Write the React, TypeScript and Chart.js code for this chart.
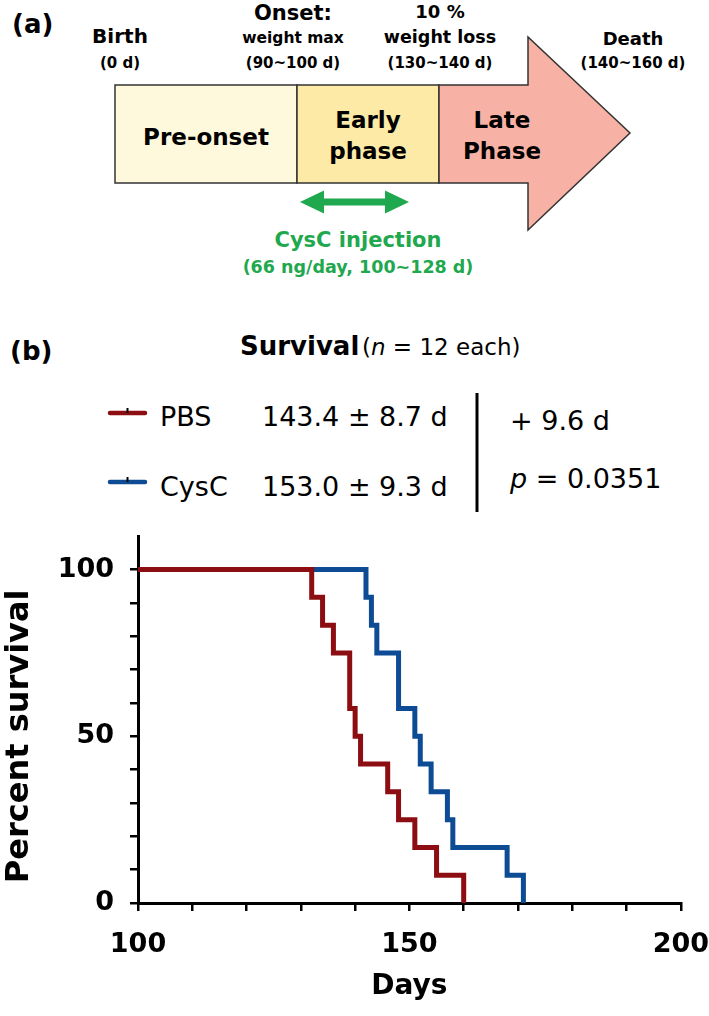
import React, { useEffect, useRef } from 'react';
import { Chart, registerables } from 'chart.js';

Chart.register(...registerables);

// ---- Data ----
const pbsDays = [100, 132, 134, 136, 139, 140, 141, 146, 148, 151, 155, 160];
const pbsSurvival = [100, 91.67, 83.33, 75, 58.33, 50, 41.67, 33.33, 25, 16.67, 8.33, 0];
const cysDays = [100, 142, 143, 144, 148, 151, 152, 154, 157, 158, 168, 171];
const cysSurvival = [100, 91.67, 83.33, 75, 58.33, 50, 41.67, 33.33, 25, 16.67, 8.33, 0];
const xTickLabels = [100, 150, 200];
const yTickLabels = [0, 50, 100];

const RED = '#8C0E12';
const BLUE = '#0D4B94';
const GREEN = '#1FA84E';
const BOLD = 'DejaVu Sans';

type TP = { x: number; y: number; size: number; bold?: boolean; anchor?: string; fill?: string; children: React.ReactNode };
function T({ x, y, size, bold, anchor, fill, children }: TP) {
  return (
    <text x={x} y={y} fontFamily="DejaVu Sans" fontSize={size} fontWeight={bold ? 'bold' : 'normal'}
      textAnchor={anchor || 'middle'} fill={fill || '#000'}>{children}</text>
  );
}

export default function App() {
  const ref = useRef<HTMLCanvasElement>(null);
  useEffect(() => {
    const tickFont = { family: BOLD, weight: 'bold' as const, size: 27 };
    const chart = new Chart(ref.current!, {
      type: 'line',
      data: {
        datasets: [
          {
            label: 'PBS',
            data: pbsDays.map((d, i) => ({ x: d, y: pbsSurvival[i] })),
            borderColor: RED, borderWidth: 5, stepped: 'before', pointRadius: 0,
            fill: false, clip: false, borderJoinStyle: 'miter', borderCapStyle: 'butt',
          },
          {
            label: 'CysC',
            data: cysDays.map((d, i) => ({ x: d, y: cysSurvival[i] })),
            borderColor: BLUE, borderWidth: 5, stepped: 'before', pointRadius: 0,
            fill: false, clip: false, borderJoinStyle: 'miter', borderCapStyle: 'butt',
          },
        ],
      },
      options: {
        responsive: false,
        animation: false,
        layout: { padding: { top: 0, left: 0, right: 10, bottom: 0 } },
        plugins: { legend: { display: false }, tooltip: { enabled: false } },
        scales: {
          x: {
            type: 'linear', min: 100, max: 200,
            ticks: {
              stepSize: 10, autoSkip: false, maxRotation: 0, minRotation: 0, padding: 18,
              color: '#000', font: tickFont,
              callback: (v: any) => (xTickLabels.includes(Number(v)) ? String(v) : ''),
            },
            grid: { display: true, drawOnChartArea: false, drawTicks: true, tickLength: 8, color: '#000', lineWidth: 2.5 },
            border: { display: true, color: '#000', width: 3 },
            title: { display: true, text: 'Days', color: '#000', font: { family: BOLD, weight: 'bold', size: 28 }, padding: { top: 0, bottom: 12 } },
            afterFit: (s: any) => { s.height = 113; },
          },
          y: {
            type: 'linear', min: 0, max: 110,
            afterBuildTicks: (s: any) => { s.ticks = s.ticks.filter((t: any) => t.value <= 100); },
            ticks: {
              stepSize: 10, autoSkip: false, padding: 16, color: '#000', font: tickFont,
              callback: (v: any) => (yTickLabels.includes(Number(v)) ? String(v) : ''),
            },
            grid: { display: true, drawOnChartArea: false, drawTicks: true, tickLength: 8, color: '#000', lineWidth: 2.5 },
            border: { display: true, color: '#000', width: 3 },
            title: { display: true, text: 'Percent survival   ', color: '#000', font: { family: BOLD, weight: 'bold', size: 32 }, padding: { top: 0, bottom: 0 } },
            afterFit: (s: any) => { s.width = 138; },
          },
        },
      },
    } as any);
    return () => chart.destroy();
  }, []);

  return (
    <div style={{ position: 'absolute', left: 0, top: 0, width: 709, height: 1016, background: '#fff', overflow: 'hidden' }}>
      <svg width={709} height={519} style={{ position: 'absolute', left: 0, top: 0 }}>
        {/* Panel (a) */}
        <T x={12} y={33} size={26} bold anchor="start">(a)</T>
        <T x={120} y={43} size={20} bold>Birth</T>
        <T x={120} y={68} size={15} bold>(0 d)</T>
        <T x={293} y={20} size={21} bold>Onset:</T>
        <T x={293} y={43} size={15.5} bold>weight max</T>
        <T x={293} y={68} size={15} bold>(90~100 d)</T>
        <T x={440} y={18} size={18} bold>10 %</T>
        <T x={440} y={43} size={17.5} bold>weight loss</T>
        <T x={440} y={68} size={15} bold>(130~140 d)</T>
        <T x={633} y={45} size={18} bold>Death</T>
        <T x={633} y={68} size={15} bold>(140~160 d)</T>

        <rect x={115} y={85} width={182} height={98} fill="#FEF8DC" stroke="#333" strokeWidth={1.5} />
        <rect x={297} y={85} width={142} height={98} fill="#FCEAA6" stroke="#333" strokeWidth={1.5} />
        <polygon points="439,85 528,85 528,37 630,133 528,230 528,183 439,183" fill="#F8B2A5" stroke="#333" strokeWidth={1.5} />
        <T x={206} y={145} size={23} bold>Pre-onset</T>
        <T x={368} y={128} size={23} bold>Early</T>
        <T x={368} y={159} size={23} bold>phase</T>
        <T x={502} y={128} size={23} bold>Late</T>
        <T x={502} y={159} size={23} bold>Phase</T>

        <polygon points="300,202 324,190.5 324,198.5 385,198.5 385,190.5 409,202 385,213.5 385,205.5 324,205.5 324,213.5" fill={GREEN} />
        <T x={358} y={247} size={21} bold fill={GREEN}>CysC injection</T>
        <T x={358} y={273} size={17.5} bold fill={GREEN}>(66 ng/day, 100~128 d)</T>

        {/* Panel (b) header and legend */}
        <T x={10} y={360} size={26} bold anchor="start">(b)</T>
        <T x={240} y={355} size={26} bold anchor="start">Survival</T>
        <text x={362} y={355} fontFamily="DejaVu Sans" fontSize={23} fill="#000">
          (<tspan fontStyle="italic">n</tspan> = 12 each)
        </text>

        <line x1={110} y1={413} x2={145} y2={413} stroke={RED} strokeWidth={4.5} strokeLinecap="round" />
        <line x1={127.5} y1={408} x2={127.5} y2={413} stroke="#000" strokeWidth={2} />
        <T x={160} y={426} size={27} anchor="start">PBS</T>
        <T x={262} y={426} size={27} anchor="start">143.4 ± 8.7 d</T>

        <line x1={110} y1={482} x2={145} y2={482} stroke={BLUE} strokeWidth={4.5} strokeLinecap="round" />
        <line x1={127.5} y1={477} x2={127.5} y2={482} stroke="#000" strokeWidth={2} />
        <T x={160} y={496} size={27} anchor="start">CysC</T>
        <T x={262} y={496} size={27} anchor="start">153.0 ± 9.3 d</T>

        <line x1={477} y1={393} x2={477} y2={512} stroke="#000" strokeWidth={3} />
        <T x={510} y={430} size={27} anchor="start">+ 9.6 d</T>
        <text x={510} y={488} fontFamily="DejaVu Sans" fontSize={27} fill="#000">
          <tspan fontStyle="italic">p</tspan> = 0.0351
        </text>
      </svg>
      <div style={{ position: 'absolute', left: 0, top: 504, width: 727, height: 512 }}>
        <canvas ref={ref} width={727} height={512} style={{ display: 'block' }} />
      </div>
    </div>
  );
}
